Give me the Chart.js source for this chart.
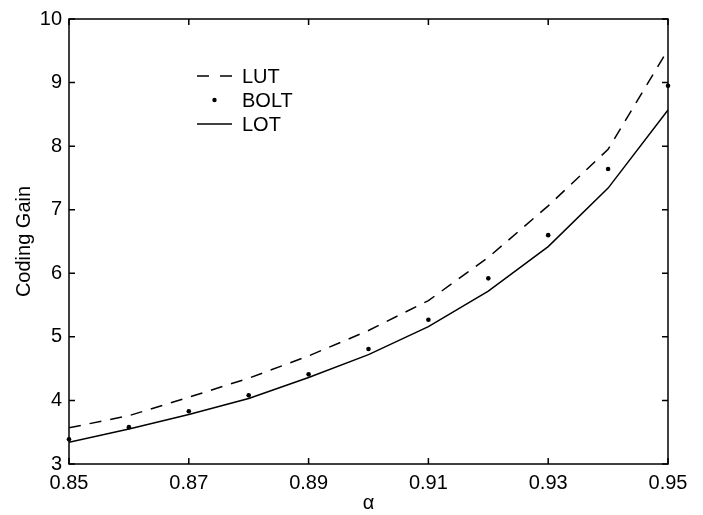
<!DOCTYPE html>
<html>
<head>
<meta charset="utf-8">
<script src="https://cdn.jsdelivr.net/npm/chart.js@4.4.1/dist/chart.umd.min.js"></script>
<style>
  html, body { margin: 0; padding: 0; background: #fff; }
  #wrap { width: 703px; height: 515px; }
</style>
</head>
<body>
<div id="wrap"><canvas id="gainChart" width="703" height="515"></canvas></div>
<script>
// data
const alphaValues = [0.85, 0.86, 0.87, 0.88, 0.89, 0.90, 0.91, 0.92, 0.93, 0.94, 0.95];
const lutGain  = [3.57, 3.76, 4.05, 4.35, 4.70, 5.10, 5.57, 6.25, 7.06, 7.95, 9.52];
const boltGain = [3.39, 3.58, 3.83, 4.08, 4.41, 4.81, 5.27, 5.92, 6.60, 7.64, 8.95];
const lotGain  = [3.34, 3.55, 3.78, 4.03, 4.36, 4.72, 5.16, 5.72, 6.42, 7.34, 8.57];

const xTickValues = [0.85, 0.87, 0.89, 0.91, 0.93, 0.95];
const yTickValues = [3, 4, 5, 6, 7, 8, 9, 10];

const legendItems = ['LUT', 'BOLT', 'LOT'];

const FONT = 'Liberation Sans, Arial, Helvetica, sans-serif';

function toPoints(ys) {
    return alphaValues.map((x, i) => ({ x: x, y: ys[i] }));
}

// frame + inward tick marks on all four sides
const framePlugin = {
    id: 'frame',
    afterDraw(chart) {
        const ctx = chart.ctx;
        const a = chart.chartArea;
        const xs = chart.scales.x;
        const ys = chart.scales.y;
        const len = 6;
        ctx.save();
        ctx.strokeStyle = '#000';
        ctx.lineWidth = 1.5;
        ctx.strokeRect(a.left, a.top, a.right - a.left, a.bottom - a.top);
        ctx.beginPath();
        xTickValues.forEach(v => {
            const px = xs.getPixelForValue(v);
            ctx.moveTo(px, a.bottom); ctx.lineTo(px, a.bottom - len);
            ctx.moveTo(px, a.top);    ctx.lineTo(px, a.top + len);
        });
        yTickValues.forEach(v => {
            const py = ys.getPixelForValue(v);
            ctx.moveTo(a.left, py);  ctx.lineTo(a.left + len, py);
            ctx.moveTo(a.right, py); ctx.lineTo(a.right - len, py);
        });
        ctx.stroke();
        ctx.restore();
    }
};

// legend without a box, like the original figure
const legendPlugin = {
    id: 'plainLegend',
    afterDraw(chart) {
        const ctx = chart.ctx;
        const x0 = 197, x1 = 232, tx = 242;
        const rows = [76, 100, 124];
        ctx.save();
        ctx.strokeStyle = '#000';
        ctx.fillStyle = '#000';
        ctx.lineWidth = 1.5;
        // LUT dashed
        ctx.setLineDash([12, 11]);
        ctx.beginPath(); ctx.moveTo(x0, rows[0]); ctx.lineTo(x1, rows[0]); ctx.stroke();
        ctx.setLineDash([]);
        // BOLT dot
        ctx.beginPath(); ctx.arc((x0 + x1) / 2, rows[1], 2.2, 0, Math.PI * 2); ctx.fill();
        // LOT solid
        ctx.beginPath(); ctx.moveTo(x0, rows[2]); ctx.lineTo(x1, rows[2]); ctx.stroke();
        ctx.font = '20px ' + FONT;
        ctx.textBaseline = 'middle';
        legendItems.forEach((t, i) => ctx.fillText(t, tx, rows[i] + 1));
        ctx.restore();
    }
};

const ctx = document.getElementById('gainChart').getContext('2d');
new Chart(ctx, {
    type: 'scatter',
    data: {
        datasets: [
            {
                label: legendItems[0],
                data: toPoints(lutGain),
                showLine: true,
                borderColor: '#000',
                borderWidth: 1.5,
                borderDash: [12, 9],
                pointRadius: 0,
                fill: false
            },
            {
                label: legendItems[1],
                data: toPoints(boltGain),
                showLine: false,
                clip: false,
                pointRadius: 2.3,
                pointBackgroundColor: '#000',
                pointBorderWidth: 0
            },
            {
                label: legendItems[2],
                data: toPoints(lotGain),
                showLine: true,
                borderColor: '#000',
                borderWidth: 1.5,
                pointRadius: 0,
                fill: false
            }
        ]
    },
    options: {
        responsive: false,
        animation: false,
        devicePixelRatio: 1,
        layout: { padding: { left: 0, right: 35, top: 15, bottom: 0 } },
        plugins: {
            legend: { display: false },
            tooltip: { enabled: false }
        },
        scales: {
            x: {
                type: 'linear',
                min: 0.85,
                max: 0.95,
                afterBuildTicks: s => { s.ticks = xTickValues.map(v => ({ value: v })); },
                afterFit: s => { s.height = 51; },
                grid: { display: false, drawTicks: false },
                border: { display: false },
                ticks: {
                    color: '#000',
                    font: { family: FONT, size: 20 },
                    padding: 7,
                    maxRotation: 0,
                    autoSkip: false,
                    callback: v => v.toFixed(2)
                },
                title: {
                    display: true,
                    text: 'α',
                    color: '#000',
                    font: { family: FONT, size: 20 },
                    padding: { top: 0, bottom: 0 }
                }
            },
            y: {
                min: 3,
                max: 10,
                afterBuildTicks: s => { s.ticks = yTickValues.map(v => ({ value: v })); },
                afterFit: s => { s.width = 69; },
                grid: { display: false, drawTicks: false },
                border: { display: false },
                ticks: {
                    color: '#000',
                    font: { family: FONT, size: 20 },
                    padding: 7,
                    autoSkip: false
                },
                title: {
                    display: true,
                    text: 'Coding Gain',
                    color: '#000',
                    font: { family: FONT, size: 20 },
                    padding: { top: 12, bottom: 0 }
                }
            }
        }
    },
    plugins: [framePlugin, legendPlugin]
});
</script>
</body>
</html>
